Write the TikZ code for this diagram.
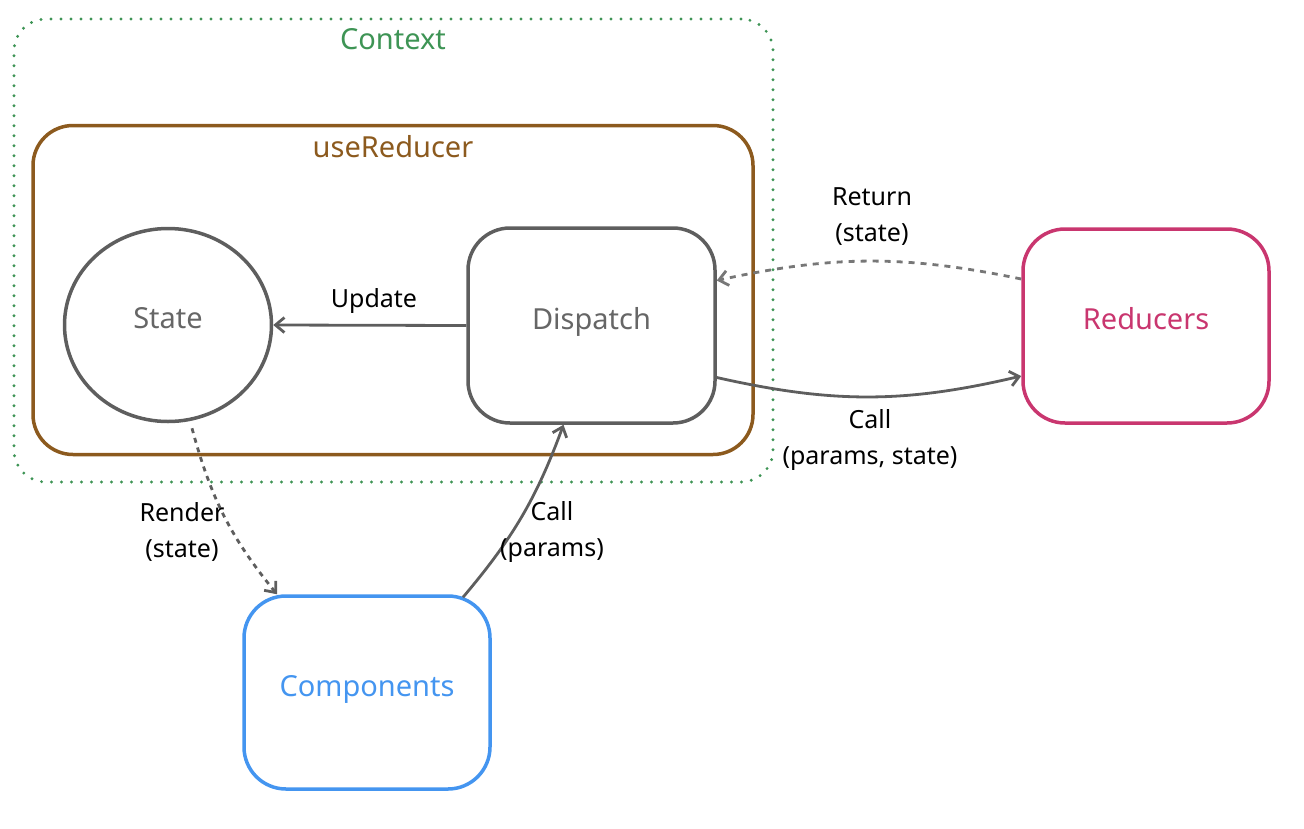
\documentclass[tikz,border=0pt]{standalone}
\usepackage{fontspec}
\setmainfont{Noto Sans}
\usetikzlibrary{arrows.meta,shapes.geometric}
\definecolor{ctxgreen}{HTML}{3E9455}
\definecolor{hookbrown}{HTML}{8C5A1E}
\definecolor{redpink}{HTML}{C9366F}
\definecolor{compblue}{HTML}{4495F0}
\definecolor{linegray}{HTML}{5E5E5E}
\definecolor{textgray}{HTML}{666666}
\definecolor{dashgray}{HTML}{777777}
\begin{document}
\begin{tikzpicture}[x=1pt,y=-1pt,
  nodetext/.style={font=\fontsize{29}{34}\selectfont, text height=21pt, text depth=14pt},
  lbl/.style={font=\fontsize{25}{36}\selectfont, align=center, text=black, inner sep=0pt},
  box/.style={draw, rectangle, rounded corners=42pt, line width=3.5pt, nodetext, inner sep=0pt},
  arr/.style={draw=linegray, line width=2.8pt, -{Straight Barb[length=9pt,width=15pt]}},
  darr/.style={arr, draw=dashgray, dash pattern=on 6pt off 6pt}]
\useasboundingbox (0,0) rectangle (1304,828);
% containers
\node[draw=ctxgreen, rectangle, rounded corners=32pt, line width=3.2pt, line cap=round,
      dash pattern=on 0pt off 10pt, minimum width=759, minimum height=463] (ctx) at (393.5,250.5) {};
\node[nodetext, text=ctxgreen] (ctxlbl) at (393,46) {Context};
\node[draw=hookbrown, rectangle, rounded corners=40pt, line width=3.5pt,
      minimum width=720, minimum height=329] (hook) at (393,290) {};
\node[nodetext, text=hookbrown] (hooklbl) at (393,154) {useReducer};
% nodes
\node[draw=linegray, ellipse, line width=3.5pt, nodetext, text=textgray,
      minimum width=207, minimum height=193, inner sep=0pt] (state) at (168,325) {State};
\node[box, draw=linegray, text=textgray, minimum width=247, minimum height=195] (disp) at (591.5,325.5) {Dispatch};
\node[box, draw=redpink, text=redpink, minimum width=246, minimum height=194] (red) at (1146,326) {Reducers};
\node[box, draw=compblue, text=compblue, minimum width=246, minimum height=193] (comp) at (367,692.5) {Components};
% connectors
\draw[arr] (disp.west) -- (state.east);
\node[lbl] (updlbl) at (374,301) {Update};
\draw[darr] ([yshift=47pt]red.west) to[bend right=12] ([yshift=45pt]disp.east);
\node[lbl] (retlbl) at (872,217) {Return\\(state)};
\draw[arr] ([yshift=-52pt]disp.east) to[bend right=13] ([yshift=-50pt]red.west);
\node[lbl] (calllbl) at (870,440) {Call\\(params, state)};
\draw[darr, draw=linegray, dash pattern=on 5pt off 5pt] ([xshift=24pt,yshift=-5pt]state.south) to[bend right=12] ([xshift=-90pt]comp.north);
\node[lbl] (renlbl) at (182,532) {Render\\(state)};
\draw[arr] ([xshift=96pt,yshift=-3pt]comp.north) to[bend right=10] ([xshift=-28pt]disp.south);
\node[lbl] (cplbl) at (552,532) {Call\\(params)};
\end{tikzpicture}
\end{document}
